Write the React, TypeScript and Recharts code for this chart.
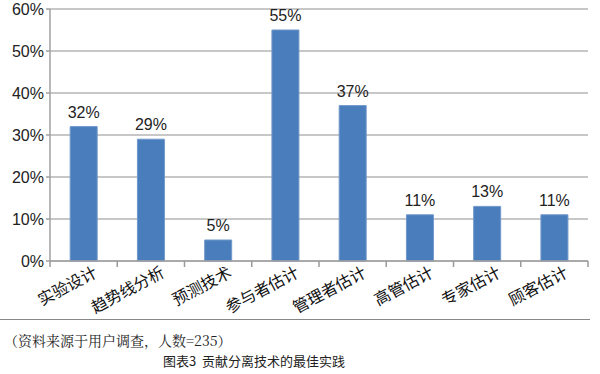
import React from 'react';
import { BarChart, Bar, XAxis, YAxis, CartesianGrid, LabelList } from 'recharts';

const categories = ['实验设计', '趋势线分析', '预测技术', '参与者估计', '管理者估计', '高管估计', '专家估计', '顾客估计'];
const shares = [32, 29, 5, 55, 37, 11, 13, 11];
const yTicks = [0, 10, 20, 30, 40, 50, 60];

const data = categories.map((name, i) => ({ name, value: shares[i] }));

const CHART_W = 600;
const Y_AXIS_W = 50;
const RIGHT = 12;

const sans = '"Liberation Sans", Arial, "Noto Sans CJK SC", sans-serif';

// category labels are tilted, and the small marks sit on the category boundaries
const CategoryTick = (props: any) => {
  const { x, y, payload, index } = props;
  const band = (CHART_W - Y_AXIS_W - RIGHT) / categories.length;
  const left = x - band / 2;
  return (
    <g>
      <line x1={left} y1={y - 8} x2={left} y2={y - 2} stroke="#9a9a9a" strokeWidth={1.5} />
      {index === categories.length - 1 && (
        <line x1={left + band} y1={y - 8} x2={left + band} y2={y - 2} stroke="#9a9a9a" strokeWidth={1.5} />
      )}
      <g transform={`translate(${x + 11},${y})`}>
        <text
          x={0}
          y={0}
          dy={8}
          textAnchor="end"
          transform="rotate(-28)"
          fontSize={16}
          fill="#111"
          fontFamily={'"Noto Sans CJK SC", sans-serif'}
        >
          {payload.value}
        </text>
      </g>
    </g>
  );
};

const App: React.FC = () => {
  return (
    <div style={{ position: 'absolute', left: 0, top: 0, width: 600, height: 374, background: '#fff' }}>
      <BarChart
        width={CHART_W}
        height={318}
        data={data}
        margin={{ top: 9, right: RIGHT, left: 0, bottom: 0 }}
        barCategoryGap="30%"
      >
        <CartesianGrid vertical={false} stroke="#b5b5b5" strokeWidth={1.5} />
        <XAxis
          dataKey="name"
          interval={0}
          height={57}
          stroke="#a0a0a0"
          strokeWidth={1.5}
          tickLine={false}
          tick={<CategoryTick />}
        />
        <YAxis
          domain={[0, 60]}
          ticks={yTicks}
          width={Y_AXIS_W}
          stroke="#a0a0a0"
          strokeWidth={1.5}
          tickSize={4}
          tickFormatter={(v: number) => `${v}%`}
          tick={{ fontSize: 16, fill: '#222', fontFamily: sans }}
        />
        <Bar dataKey="value" fill="#4a7dbb" stroke="#6f98cc" strokeWidth={1} isAnimationActive={false}>
          <LabelList
            dataKey="value"
            position="top"
            offset={9}
            formatter={(v: any) => `${v}%`}
            style={{ fontSize: 16, fill: '#222', fontFamily: sans }}
          />
        </Bar>
      </BarChart>
      <div style={{ position: 'absolute', left: 0, top: 319, width: 590, height: 1, background: '#888' }} />
      <div
        style={{
          position: 'absolute',
          left: 4,
          top: 330,
          fontSize: 14,
          color: '#222',
          fontFamily: '"Noto Serif CJK SC", "Noto Sans CJK SC", serif',
        }}
      >
        （资料来源于用户调查，人数=235）
      </div>
      <div
        style={{
          position: 'absolute',
          left: 163,
          top: 351,
          fontSize: 13,
          color: '#222',
          whiteSpace: 'pre',
          fontFamily: '"Noto Sans CJK SC", sans-serif',
        }}
      >
        {'图表3  贡献分离技术的最佳实践'}
      </div>
    </div>
  );
};

export default App;
